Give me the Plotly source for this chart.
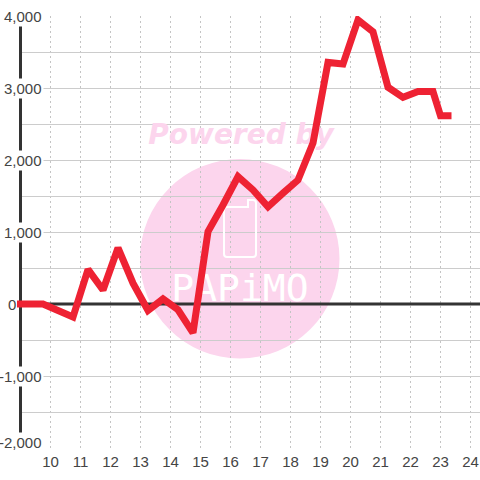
import plotly.graph_objects as go

hours = [9.0, 9.25, 9.75, 10.75, 11.25, 11.75, 12.25, 12.75, 13.25, 13.75, 14.25, 14.75, 15.25, 15.75,
         16.25, 16.75, 17.25, 17.75, 18.25, 18.75, 19.25, 19.75, 20.25, 20.75, 21.25, 21.75, 22.25,
         22.75, 23.0, 23.25]
values = [0, 0, 0, -180, 480, 195, 780, 290, -90, 70, -80, -400, 1005, 1375,
          1770, 1585, 1350, 1540, 1722, 2235, 3355, 3333, 3945, 3780, 3010, 2870, 2950,
          2950, 2615, 2615]
x_ticks = list(range(10, 25))
y_major = [4000, 3000, 2000, 1000, 0, -1000, -2000]
y_labels = ["4,000", "3,000", "2,000", "1,000", "0", "-1,000", "-2,000"]

W, H = 480, 480
L, R, T, B = 8, 0, 16, 32
X0 = 10 - (50.5 - L) / 30
X1 = X0 + (W - L - R) / 30
AXIS_X = 9.0
Y0, Y1 = -2000, 4000
GRID = "#cccccc"
PINK = "#fcd5ed"
DARK = "#333333"
TEXT = "#444444"


def px(x):
    return X0 + (x - L) / 30


def py(y):
    return (304 - y) / 72 * 1000


def pp(x, y):
    return f"{px(x):.4f},{py(y):.2f}"


phone = ("M " + pp(227, 207) + " L " + pp(248, 207) + " L " + pp(248, 200) + " L " + pp(253, 200)
         + " Q " + pp(256, 200) + " " + pp(256, 203) + " L " + pp(256, 254)
         + " Q " + pp(256, 257) + " " + pp(253, 257) + " L " + pp(227, 257)
         + " Q " + pp(224, 257) + " " + pp(224, 254) + " L " + pp(224, 210)
         + " Q " + pp(224, 207) + " " + pp(227, 207) + " Z")

fig = go.Figure()
fig.add_trace(go.Scatter(x=[px(241)], y=[py(137)], mode="text", text=["Powered by"],
                         textfont=dict(family="DejaVu Sans", size=28, color=PINK,
                                       weight="bold", style="italic"),
                         textposition="middle center", hoverinfo="skip", showlegend=False))
fig.add_trace(go.Scatter(x=[px(240)], y=[py(291)], mode="text", text=["PAPiMO"],
                         textfont=dict(family="DejaVu Sans Mono", size=38, color="#ffffff"),
                         textposition="middle center", hoverinfo="skip", showlegend=False))
fig.add_trace(go.Scatter(x=[AXIS_X, X1], y=[0, 0], mode="lines", line=dict(color=DARK, width=3),
                         hoverinfo="skip", showlegend=False))
fig.add_trace(go.Scatter(x=[AXIS_X, AXIS_X], y=[Y0, Y1], mode="lines",
                         line=dict(color=DARK, width=3),
                         hoverinfo="skip", showlegend=False))
fig.add_trace(go.Scatter(x=hours, y=values, mode="lines", name="value",
                         line=dict(color="#ee2233", width=7),
                         hoverinfo="skip", showlegend=False))

fig.add_shape(type="circle", xref="x", yref="y", x0=px(140), x1=px(339.5), y0=py(358.5), y1=py(159),
              fillcolor=PINK, line=dict(width=0), layer="below")
fig.add_shape(type="path", xref="x", yref="y", path=phone, line=dict(color="#ffffff", width=2),
              fillcolor="rgba(0,0,0,0)", layer="between")
fig.add_shape(type="rect", xref="x", yref="y", x0=X0, x1=px(19), y0=Y0, y1=Y1,
              fillcolor="#ffffff", line=dict(width=0), layer="between")

for v, lab in zip(y_major, y_labels):
    right = 17 if v == 0 else 44
    fig.add_annotation(x=(right - L) / (W - L), xref="paper", y=v, yref="y", text=lab,
                       showarrow=False, xanchor="right", yanchor="middle",
                       yshift=6 if v == Y0 else 0,
                       font=dict(family="Liberation Sans", size=15, color=TEXT),
                       bgcolor="#ffffff", borderpad=1 if v != 0 else 0)

fig.update_layout(width=W, height=H, autosize=False, margin=dict(l=L, r=R, t=T, b=B, pad=0),
                  paper_bgcolor="#ffffff", plot_bgcolor="#ffffff", showlegend=False, hovermode=False,
                  font=dict(family="Liberation Sans", size=15, color=TEXT))
fig.update_xaxes(range=[X0, X1], tickmode="array", tickvals=x_ticks, ticktext=[str(t) for t in x_ticks],
                 showgrid=True, gridcolor="#c4c4c4", gridwidth=1, griddash="2px,3px", zeroline=False,
                 showline=False, ticks="", tickfont=dict(size=15, color=TEXT), ticklabelstandoff=3)
fig.update_yaxes(range=[Y0, Y1], dtick=500, tick0=0, showgrid=True, gridcolor=GRID, gridwidth=1,
                 zeroline=False, showline=False, ticks="", showticklabels=False)

post = """
document.body.style.margin = '0';
document.querySelectorAll('.js-line').forEach(function(p){ p.style.strokeLinecap = 'square'; p.style.strokeLinejoin = 'miter'; });
"""
fig.write_html("out.html", post_script=post, config={"displayModeBar": False})
